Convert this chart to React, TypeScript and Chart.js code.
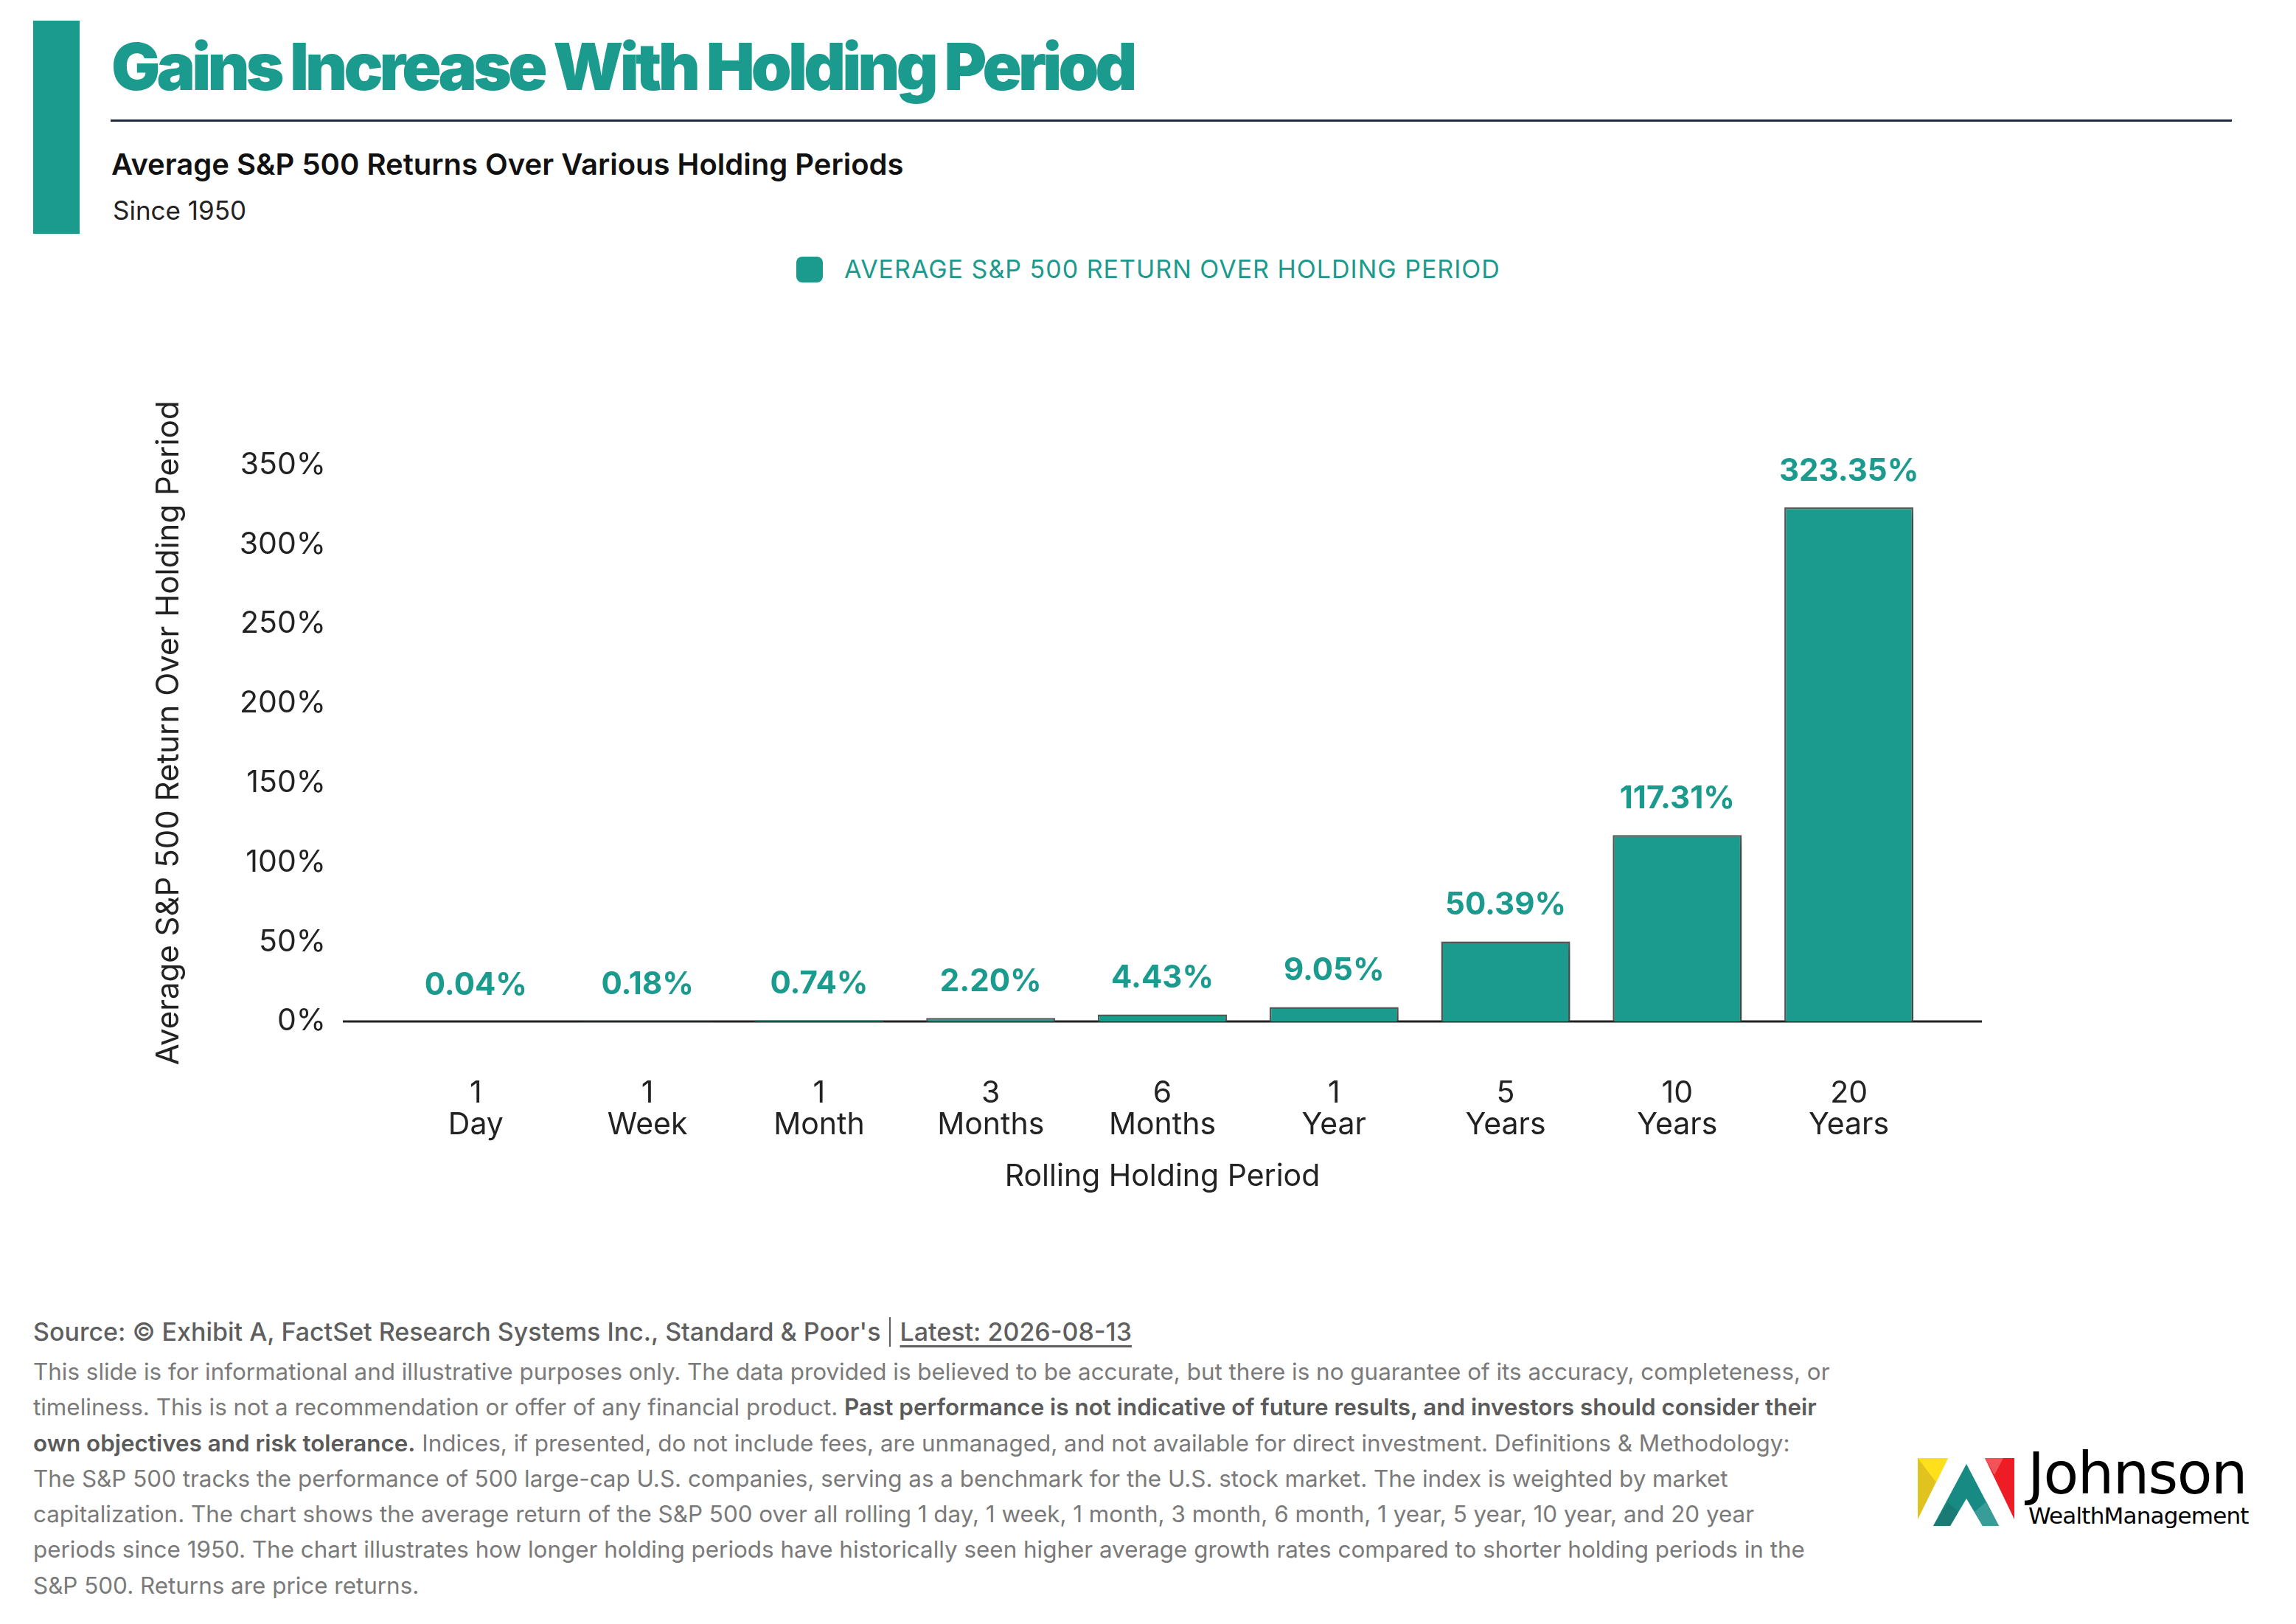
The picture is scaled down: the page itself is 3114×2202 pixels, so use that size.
import { useEffect, useRef } from 'react';
import { Chart, registerables } from 'chart.js';

Chart.register(...registerables);

// data
const periodNumbers = ['1', '1', '1', '3', '6', '1', '5', '10', '20'];
const periodUnits = ['Day', 'Week', 'Month', 'Months', 'Months', 'Year', 'Years', 'Years', 'Years'];
const avgReturns = [0.04, 0.18, 0.74, 2.2, 4.43, 9.05, 50.39, 117.31, 323.35];
const yTickStep = 50;
const yMax = 363;

const TEAL = '#1b9a8e';
const INK = '#222222';

const disclaimerLines: { text: string; bold?: boolean }[][] = [
  [{ text: 'This slide is for informational and illustrative purposes only. The data provided is believed to be accurate, but there is no guarantee of its accuracy, completeness, or' }],
  [
    { text: 'timeliness. This is not a recommendation or offer of any financial product. ' },
    { text: 'Past performance is not indicative of future results, and investors should consider their', bold: true },
  ],
  [
    { text: 'own objectives and risk tolerance.', bold: true },
    { text: ' Indices, if presented, do not include fees, are unmanaged, and not available for direct investment. Definitions & Methodology:' },
  ],
  [{ text: 'The S&P 500 tracks the performance of 500 large-cap U.S. companies, serving as a benchmark for the U.S. stock market. The index is weighted by market' }],
  [{ text: 'capitalization. The chart shows the average return of the S&P 500 over all rolling 1 day, 1 week, 1 month, 3 month, 6 month, 1 year, 5 year, 10 year, and 20 year' }],
  [{ text: 'periods since 1950. The chart illustrates how longer holding periods have historically seen higher average growth rates compared to shorter holding periods in the' }],
  [{ text: 'S&P 500. Returns are price returns.' }],
];

// zero line drawn a little wider than the plot, under the bars
const baselinePlugin = {
  id: 'baseline',
  beforeDatasetsDraw(chart: any) {
    const { ctx, chartArea, scales } = chart;
    const y = scales.y.getPixelForValue(0);
    ctx.save();
    ctx.strokeStyle = INK;
    ctx.lineWidth = 3;
    ctx.beginPath();
    ctx.moveTo(chartArea.left - 64, y);
    ctx.lineTo(chartArea.right + 64, y);
    ctx.stroke();
    ctx.restore();
  },
};

// soft drop shadow behind the bars
const shadowPlugin = {
  id: 'barShadow',
  beforeDatasetDraw(chart: any) {
    const ctx = chart.ctx;
    ctx.save();
    ctx.shadowColor = 'rgba(0,0,0,0.3)';
    ctx.shadowBlur = 14;
    ctx.shadowOffsetX = 5;
    ctx.shadowOffsetY = 7;
  },
  afterDatasetDraw(chart: any) {
    chart.ctx.restore();
  },
};

// value labels above each bar
const valueLabelPlugin = {
  id: 'valueLabels',
  afterDatasetsDraw(chart: any) {
    const { ctx } = chart;
    const meta = chart.getDatasetMeta(0);
    ctx.save();
    ctx.fillStyle = TEAL;
    ctx.font = '700 42px Inter';
    ctx.textAlign = 'center';
    ctx.textBaseline = 'middle';
    meta.data.forEach((bar: any, i: number) => {
      ctx.fillText(avgReturns[i].toFixed(2) + '%', bar.x, bar.y - 49);
    });
    ctx.restore();
  },
};

function ReturnsChart() {
  const canvasRef = useRef<HTMLCanvasElement>(null);
  const chartRef = useRef<Chart | null>(null);

  useEffect(() => {
    if (!canvasRef.current) return;
    if (chartRef.current) chartRef.current.destroy();

    const labels = periodNumbers.map((n, i) => [n, periodUnits[i]]);

    chartRef.current = new Chart(canvasRef.current, {
      type: 'bar',
      data: {
        labels,
        datasets: [
          {
            label: 'AVERAGE S&P 500 RETURN OVER HOLDING PERIOD',
            data: avgReturns,
            backgroundColor: TEAL,
            borderColor: '#5a5a5a',
            borderWidth: 2.5,
            categoryPercentage: 1,
            barPercentage: 0.752,
          },
        ],
      },
      options: {
        responsive: false,
        animation: false,
        devicePixelRatio: 1,
        layout: { padding: { top: 43, left: 0, right: 490, bottom: 50 } },
        plugins: {
          legend: { display: false },
          tooltip: { enabled: false },
        },
        scales: {
          x: {
            grid: { display: false, drawTicks: false },
            border: { display: false },
            ticks: {
              color: INK,
              font: { family: 'Inter', size: 41, lineHeight: 1.03 },
              padding: 77,
              maxRotation: 0,
              autoSkip: false,
            },
            title: {
              display: true,
              text: 'Rolling Holding Period',
              color: INK,
              font: { family: 'Inter', size: 41, lineHeight: 1.2 },
              padding: { top: 0, bottom: 0 },
            },
            afterFit: (scale: any) => {
              scale.height = 235;
            },
          },
          y: {
            min: 0,
            max: yMax,
            grid: { display: false, drawTicks: false },
            border: { display: false },
            ticks: {
              stepSize: yTickStep,
              includeBounds: false,
              color: INK,
              font: { family: 'Inter', size: 41 },
              padding: 87,
              callback: (v: any) => v + '%',
            },
            title: {
              display: true,
              text: 'Average S&P 500 Return Over Holding Period',
              color: INK,
              font: { family: 'Inter', size: 42, lineHeight: 1.2 },
              padding: { top: 204, bottom: 0 },
            },
            afterFit: (scale: any) => {
              scale.width = 529;
            },
          },
        },
      },
      plugins: [baselinePlugin, shadowPlugin, valueLabelPlugin],
    });

    return () => {
      if (chartRef.current) {
        chartRef.current.destroy();
        chartRef.current = null;
      }
    };
  }, []);

  return (
    <canvas
      ref={canvasRef}
      width={3114}
      height={1179}
      style={{ position: 'absolute', left: 0, top: 491, width: 3114, height: 1179 }}
    />
  );
}

function Logo() {
  return (
    <div style={{ position: 'absolute', left: 2600, top: 1976, width: 470, height: 100 }}>
      <svg width={134} height={95} viewBox="0 0 134 95" style={{ position: 'absolute', left: 0, top: 0 }}>
        {/* yellow */}
        <polygon points="1,1 42,1 1,84" fill="#e0c31e" />
        <polygon points="1,1 42,1 26,34" fill="#ffe01b" />
        {/* teal A */}
        <polygon points="67,9 111,93 89,93 67,56 45,93 22,93" fill="#178a84" />
        <polygon points="22,93 45,93 56,74 42,61" fill="#1a7a74" />
        <polygon points="89,93 111,93 94,60 78,74" fill="#389c98" />
        {/* red */}
        <polygon points="92,1 132,1 132,84" fill="#ee1c25" />
        <polygon points="92,1 117,1 105,24" fill="#f05458" />
      </svg>
      <div
        style={{
          position: 'absolute',
          left: 150,
          top: -17,
          fontFamily: '"DejaVu Sans", sans-serif',
          fontSize: 78,
          lineHeight: 1,
          letterSpacing: -1.5,
          color: '#000',
          whiteSpace: 'nowrap',
        }}
      >
        Johnson
      </div>
      <div
        style={{
          position: 'absolute',
          left: 151,
          top: 64,
          fontFamily: '"DejaVu Sans", sans-serif',
          fontSize: 31,
          lineHeight: 1,
          letterSpacing: -0.8,
          color: '#000',
          whiteSpace: 'nowrap',
        }}
      >
        WealthManagement
      </div>
    </div>
  );
}

export default function App() {
  return (
    <div
      style={{
        position: 'relative',
        width: 3114,
        height: 2202,
        background: '#fff',
        fontFamily: 'Inter, sans-serif',
        overflow: 'hidden',
      }}
    >
      <style>{'body{margin:0;}'}</style>

      {/* header */}
      <div style={{ position: 'absolute', left: 45, top: 28, width: 63, height: 289, background: TEAL }} />
      <div
        style={{
          position: 'absolute',
          left: 151,
          top: 46,
          fontSize: 88,
          fontWeight: 900,
          lineHeight: 1,
          letterSpacing: '-0.055em',
          color: TEAL,
          whiteSpace: 'nowrap',
        }}
      >
        Gains Increase With Holding Period
      </div>
      <div style={{ position: 'absolute', left: 150, top: 162, width: 2877, height: 3, background: '#1e2a40' }} />
      <div
        style={{
          position: 'absolute',
          left: 151,
          top: 203,
          fontSize: 40,
          fontWeight: 600,
          lineHeight: 1,
          color: '#111',
          whiteSpace: 'nowrap',
        }}
      >
        Average S&amp;P 500 Returns Over Various Holding Periods
      </div>
      <div
        style={{
          position: 'absolute',
          left: 153,
          top: 268,
          fontSize: 35,
          fontWeight: 400,
          lineHeight: 1,
          color: '#222',
          whiteSpace: 'nowrap',
        }}
      >
        Since 1950
      </div>

      {/* legend */}
      <div
        style={{ position: 'absolute', left: 1080, top: 348, width: 36, height: 35, borderRadius: 8, background: TEAL }}
      />
      <div
        style={{
          position: 'absolute',
          left: 1145,
          top: 348,
          fontSize: 34,
          lineHeight: 1,
          letterSpacing: 1,
          color: TEAL,
          whiteSpace: 'nowrap',
        }}
      >
        AVERAGE S&amp;P 500 RETURN OVER HOLDING PERIOD
      </div>

      <ReturnsChart />

      {/* footer */}
      <div
        style={{
          position: 'absolute',
          left: 45,
          top: 1786,
          fontSize: 34,
          fontWeight: 500,
          lineHeight: 1,
          color: '#5f5f5f',
          whiteSpace: 'nowrap',
        }}
      >
        Source: © Exhibit A, FactSet Research Systems Inc., Standard &amp; Poor's
        <span
          style={{
            display: 'inline-block',
            width: 2,
            height: 40,
            background: '#5f5f5f',
            margin: '0 12px 0 12px',
            verticalAlign: '-8px',
          }}
        />
        <span style={{ textDecoration: 'underline', textUnderlineOffset: 6, textDecorationThickness: 3 }}>
          Latest: 2026-08-13
        </span>
      </div>
      <div
        style={{
          position: 'absolute',
          left: 45,
          top: 1836,
          fontSize: 31.4,
          lineHeight: '48.3px',
          color: '#7a7a7a',
          whiteSpace: 'nowrap',
        }}
      >
        {disclaimerLines.map((line, i) => (
          <div key={i}>
            {line.map((part, j) => (
              <span key={j} style={part.bold ? { fontWeight: 600, color: '#5a5a5a' } : undefined}>
                {part.text}
              </span>
            ))}
          </div>
        ))}
      </div>

      <Logo />
    </div>
  );
}
